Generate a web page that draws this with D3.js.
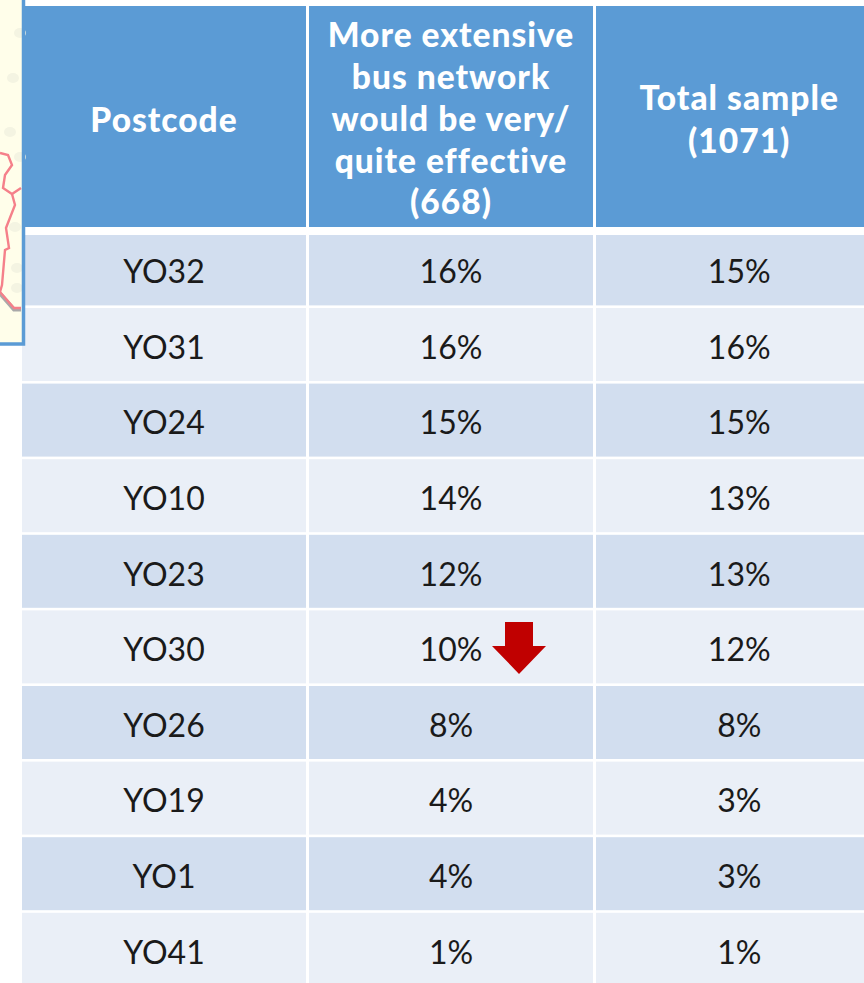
<!DOCTYPE html>
<html><head><meta charset="utf-8">
<style>html,body{margin:0;padding:0;background:#fff;overflow:hidden}svg{display:block}text{font-family:Lato,"Open Sans",sans-serif}</style>
<script src="https://cdn.jsdelivr.net/npm/d3@7"></script></head><body>
<script>
const postcodes = ["YO32","YO31","YO24","YO10","YO23","YO30","YO26","YO19","YO1","YO41"];
const busNetwork = [16,16,15,14,12,10,8,4,4,1];
const totalSample = [15,16,15,13,13,12,8,3,3,1];
const columns = ["Postcode","bus","total"];
const headers = [["Postcode"],["More extensive","bus network","would be very/","quite effective","(668)"],["Total sample","(1071)"]];
const flagged = ["YO30"];
const mapRoutes = [
  [[0,153],[8,155],[12,165],[5,175],[3,188],[12,194],[21,188]],
  [[12,194],[15,205],[6,228],[9,248],[5,250],[2,285],[0,292]],
  [[0,292],[14,308],[21,308]]
];
const mapBlobs = [[20,33],[13,78],[10,132],[20,157],[15,227],[17,268],[17,288]];

const W=864,H=983;
const svg=d3.select("body").append("svg").attr("width",W).attr("height",H);
const edges=[22,307.5,594.5,884];
const x=d=>edges[columns.indexOf(d)];
const xEnd=d=>edges[columns.indexOf(d)+1];
const y=d3.scaleBand().domain(postcodes).range([232.4,985.8]).paddingInner(0.0344).paddingOuter(0);
const ink="#1a1a1a", headFill="#5B9BD5", rowA="#D2DEEF", rowB="#EAEFF7";

// body cells
const values={bus:busNetwork,total:totalSample};
postcodes.forEach((p,r)=>{
  columns.forEach((c,i)=>{
    const x0=x(c)+(i?1.5:0), x1=xEnd(c)-1.5;
    svg.append("rect").attr("x",x0).attr("y",y(p)).attr("width",x1-x0).attr("height",y.bandwidth())
      .attr("fill",r%2?rowB:rowA);
    const label=i==0?p:values[c][r]+"%";
    svg.append("text").attr("x",(x0+x1)/2).attr("y",y(p)+y.bandwidth()/2+3)
      .attr("dy","0.35em").attr("text-anchor","middle").attr("fill",ink)
      .attr("font-size",32).text(label);
  });
});

// rule under the header
svg.append("rect").attr("x",0).attr("y",227).attr("width",W).attr("height",8).attr("fill","#fff");

// header cells
columns.forEach((c,i)=>{
  const x0=x(c)+(i?1.5:0), x1=xEnd(c)-1.5;
  svg.append("rect").attr("x",x0).attr("y",6).attr("width",x1-x0).attr("height",221).attr("fill",headFill);
  const lh=i==2?42.5:41.8, cy=i==0?120:i==1?119:120, n=headers[i].length;
  svg.append("g").selectAll("text").data(headers[i]).join("text")
    .attr("x",(x0+x1)/2).attr("y",(d,k)=>cy+(k-(n-1)/2)*lh)
    .attr("dy","0.35em").attr("text-anchor","middle").attr("fill","#fff")
    .attr("font-weight",900).attr("letter-spacing",1).attr("font-size",33.5).text(d=>d);
});

// drop arrow next to flagged values
flagged.forEach(p=>{
  const cx=519, top=y(p)+11.5;
  svg.append("path").attr("fill","#C00000")
    .attr("d",d3.line()([[cx-14,top],[cx+14,top],[cx+14,top+24],[cx+27,top+24],[cx,top+52],[cx-27,top+24],[cx-14,top+24]])+"Z");
});

// map inset fragment
const panel=svg.append("g");
panel.append("rect").attr("x",-4).attr("y",-4).attr("width",27.5).attr("height",348).attr("fill","#FFFEEA");
panel.selectAll("ellipse").data(mapBlobs).join("ellipse").attr("cx",d=>d[0]).attr("cy",d=>d[1]).attr("rx",6).attr("ry",5).attr("fill","#F4F4E2");
const line=d3.line();
panel.append("path").attr("d",line(mapRoutes[2])).attr("fill","none").attr("stroke","#A9A9A9").attr("stroke-width",4).attr("transform","translate(0,1.5)");
panel.selectAll("path.r").data(mapRoutes).join("path").attr("class","r").attr("d",line).attr("fill","none").attr("stroke","#F5808A").attr("stroke-width",2.4);
panel.append("rect").attr("x",-4).attr("y",-4).attr("width",27.5).attr("height",348).attr("fill","none").attr("stroke",headFill).attr("stroke-width",3.5);
</script></body></html>
